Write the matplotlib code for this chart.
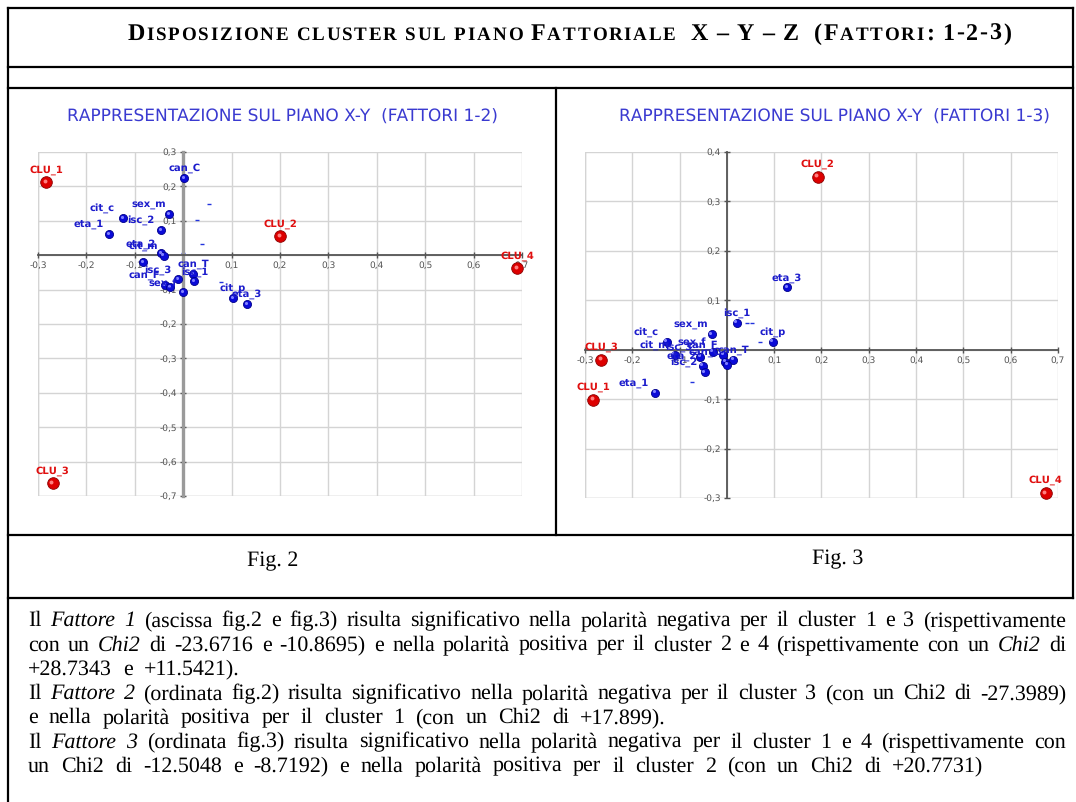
import matplotlib
matplotlib.use('Agg')
import matplotlib.pyplot as plt
from matplotlib.transforms import offset_copy

plt.rcParams['text.hinting'] = 'no_hinting'
plt.rcParams['text.hinting_factor'] = 1

# dati fig.2 (fattori 1-2) e fig.3 (fattori 1-3)
clu_names = ['CLU_1', 'CLU_2', 'CLU_3', 'CLU_4']
clu_f1 = [-0.283, 0.200, -0.270, 0.690]
clu_f2 = [0.212, 0.055, -0.663, -0.038]
clu_f1_b = [-0.283, 0.192, -0.266, 0.674]
clu_f3 = [-0.101, 0.350, -0.020, -0.290]

mod_names2 = ['can_C', 'sex_m', 'cit_c', 'eta_1', 'isc_2', 'eta_2', 'cit_m', 'isc_3',
              'can_F', 'sex_f', 'can_T', 'isc_1', 'cit_p', 'eta_3', '', '']
mod_f1 = [0.002, -0.029, -0.124, -0.153, -0.045, -0.045, -0.040, -0.010,
          -0.037, 0.000, 0.021, 0.023, 0.103, 0.132, -0.083, -0.027]
mod_f2 = [0.224, 0.119, 0.108, 0.061, 0.073, 0.005, -0.002, -0.070,
          -0.087, -0.108, -0.055, -0.076, -0.125, -0.142, -0.020, -0.093]

mod_names3 = ['cit_c', 'eta_1', 'sex_m', 'isc_1', 'cit_p', 'eta_3', 'cit_m', 'isc_3',
              'eta_2', 'isc_2', 'sex_f', 'can_F', 'can_C', 'can_T', '']
mod_f1_b = [-0.127, -0.152, -0.032, 0.021, 0.097, 0.127, -0.110, -0.057,
            -0.051, -0.047, -0.030, -0.008, -0.004, 0.013, 0.000]
mod_f3 = [0.016, -0.087, 0.032, 0.055, 0.016, 0.126, -0.010, -0.014,
          -0.032, -0.045, -0.004, -0.010, -0.024, -0.020, -0.030]

# punti supplementari (trattini)
dash_f1 = [0.054, 0.029, 0.039, 0.000, 0.079]
dash_f2 = [0.148, 0.102, 0.032, 0.006, -0.078]
dash_f1_b = [-0.074, 0.042, 0.053, 0.070]
dash_f3 = [-0.065, 0.055, 0.055, 0.016]

# etichette spostate in alto a sinistra
left2 = {'sex_m', 'cit_c', 'eta_1', 'isc_2', 'eta_2', 'cit_m', 'isc_3', 'can_F', 'sex_f'}
left3 = {'cit_c', 'eta_1', 'sex_m', 'cit_m', 'isc_3', 'eta_2', 'isc_2', 'sex_f', 'can_F', 'can_C'}

titolo = 'Disposizione cluster sul piano Fattoriale  X – Y – Z  (Fattori: 1-2-3)'

testo = [
    [('Il ', 0), ('Fattore 1', 1), ('  (ascissa fig.2 e fig.3) risulta significativo nella polarità negativa per il cluster 1 e 3 (rispettivamente', 0)],
    [('con un ', 0), ('Chi2', 1), (' di -23.6716 e -10.8695) e nella polarità positiva per il cluster 2 e 4 (rispettivamente con un ', 0), ('Chi2', 1), (' di', 0)],
    [('+28.7343 e +11.5421).', 0)],
    [('Il ', 0), ('Fattore 2', 1), ('  (ordinata fig.2) risulta significativo nella polarità negativa per il cluster 3 (con un Chi2 di -27.3989)', 0)],
    [('e nella polarità positiva per il cluster 1 (con un Chi2 di +17.899).', 0)],
    [('Il ', 0), ('Fattore 3', 1), ('  (ordinata fig.3) risulta significativo nella polarità negativa per il cluster 1 e 4 (rispettivamente con', 0)],
    [('un Chi2 di -12.5048 e -8.7192) e nella polarità positiva per il cluster 2  (con un Chi2 di +20.7731)', 0)],
]
giustificata = [True, True, False, True, False, True, False]

W, H = 1076, 802
fig = plt.figure(figsize=(W / 100, H / 100), dpi=100)
fig.patch.set_facecolor('white')

bg = fig.add_axes([0, 0, 1, 1])
bg.set_xlim(0, W)
bg.set_ylim(H, 0)
bg.axis('off')

# cornici della tabella
lw = 1.6
bg.plot([8, 8], [8, H], color='black', lw=lw)
bg.plot([1073, 1073], [8, 598], color='black', lw=lw)
for yy in [8, 67, 88, 535, 598]:
    bg.plot([8, 1073], [yy, yy], color='black', lw=lw)
bg.plot([556, 556], [88, 535], color='black', lw=lw)

bg.text(282, 117, 'RAPPRESENTAZIONE SUL PIANO X-Y  (FATTORI 1-2)', ha='center', va='center',
        family='DejaVu Sans', fontsize=12.3, color='#3a3ad0')
bg.text(834, 117, 'RAPPRESENTAZIONE SUL PIANO X-Y  (FATTORI 1-3)', ha='center', va='center',
        family='DejaVu Sans', fontsize=12.3, color='#3a3ad0')
bg.text(273, 561, 'Fig. 2', ha='center', va='center', family='Liberation Serif', fontsize=16)
bg.text(838, 559, 'Fig. 3', ha='center', va='center', family='Liberation Serif', fontsize=16)


def grafico(box, ylo, yhi, yticks, xs_c, ys_c, xs_m, ys_m, nomi, sinistra, asse_y):
    ax = fig.add_axes([box[0] / W, 1 - box[3] / H, (box[2] - box[0]) / W, (box[3] - box[1]) / H])
    ax.set_xlim(-0.3, 0.7)
    ax.set_ylim(ylo, yhi)
    xt = [-0.3, -0.2, -0.1, 0.1, 0.2, 0.3, 0.4, 0.5, 0.6, 0.7]
    ax.set_xticks(xt)
    ax.set_yticks(yticks)
    ax.set_xticklabels([f'{v:.1f}'.replace('.', ',') for v in xt])
    ax.set_yticklabels([f'{v:.1f}'.replace('.', ',') for v in yticks])
    for v in xt + [0.0]:
        ax.axvline(v, color='#d4d4d4', lw=1, zorder=0)
    for v in yticks + [0.0]:
        ax.axhline(v, color='#d4d4d4', lw=1, zorder=0)
    ax.axvline(-0.3, color='#d4d4d4', lw=1, zorder=0)
    ax.axhline(ylo, color='#d4d4d4', lw=1, zorder=0)
    ax.spines['left'].set_position(('data', 0))
    ax.spines['bottom'].set_position(('data', 0))
    ax.spines['top'].set_visible(False)
    ax.spines['right'].set_visible(False)
    ax.spines['bottom'].set_color('#555555')
    ax.spines['bottom'].set_linewidth(1.3)
    ax.spines['left'].set_color(asse_y[0])
    ax.spines['left'].set_linewidth(asse_y[1])
    ax.tick_params(direction='inout', length=5, width=1, color='#555555',
                   labelsize=6.3, labelcolor='#555555', pad=2)
    ax.patch.set_alpha(0)

    # trattini
    ax.scatter(dash_x, dash_y, marker='_', s=12, color='#2233dd', linewidths=1, clip_on=False)
    # modalita
    ax.scatter(xs_m, ys_m, s=34, color='#0a0ad8', edgecolors='#00008a', linewidths=0.6,
               zorder=4, clip_on=False)
    hl = offset_copy(ax.transData, fig=fig, x=-1, y=1, units='points')
    ax.scatter(xs_m, ys_m, s=5, color='#8080ff', transform=hl, zorder=5, clip_on=False, linewidths=0)
    for n, x, y in zip(nomi, xs_m, ys_m):
        if n:
            ox = -15 if n in sinistra else 0
            ax.annotate(n, (x, y), xytext=(ox, 7), textcoords='offset points', ha='center',
                        va='center', fontsize=7.2, fontweight='bold', color='#1c1ccc',
                        zorder=6, annotation_clip=False)
    # cluster
    ax.scatter(xs_c, ys_c, s=70, color='#dd0000', edgecolors='#8a0000', linewidths=0.6,
               zorder=6, clip_on=False)
    ax.scatter(xs_c, ys_c, s=8, color='#ff8080', transform=hl, zorder=7, clip_on=False, linewidths=0)
    for n, x, y in zip(clu_names, xs_c, ys_c):
        ax.annotate(n, (x, y), xytext=(0, 9), textcoords='offset points', ha='center',
                    va='center', fontsize=7.5, fontweight='bold', color='#e01010',
                    zorder=8, annotation_clip=False)
    return ax


dash_x, dash_y = dash_f1, dash_f2
grafico((38, 152, 522, 496), -0.7, 0.3, [-0.7, -0.6, -0.5, -0.4, -0.3, -0.2, -0.1, 0.1, 0.2, 0.3],
        clu_f1, clu_f2, mod_f1, mod_f2, mod_names2, left2, ('#9a9a9a', 2.4))
dash_x, dash_y = dash_f1_b, dash_f3
grafico((585, 152, 1058, 498), -0.3, 0.4, [-0.3, -0.2, -0.1, 0.1, 0.2, 0.3, 0.4],
        clu_f1_b, clu_f3, mod_f1_b, mod_f3, mod_names3, left3, ('#555555', 1.3))

fig.canvas.draw()
renderer = fig.canvas.get_renderer()


def larghezza(s, size, it=0, bold=False):
    t = bg.text(0, 0, s, family='Liberation Serif', fontsize=size,
                style='italic' if it else 'normal', fontweight='bold' if bold else 'normal')
    w = t.get_window_extent(renderer).width
    t.remove()
    return w


# titolo in maiuscoletto
grande, piccolo, traccia = 17, 13.5, 1.8
pezzi = []
for c in titolo:
    size = grande if (c.isupper() or c.isdigit() or c in '–():-') else piccolo
    pezzi.append((c.upper(), size))
larghe = []
for c, s in pezzi:
    if c == ' ':
        larghe.append(larghezza('a a', s, bold=True) - larghezza('aa', s, bold=True) + traccia)
    else:
        larghe.append(larghezza(c, s, bold=True) + traccia)
x = 570 - sum(larghe) / 2
for (c, s), w in zip(pezzi, larghe):
    if c != ' ':
        bg.text(x, 40, c, family='Liberation Serif', fontsize=s, fontweight='bold',
                ha='left', va='baseline')
    x += w

# paragrafo giustificato
fs = 15.5
spazio = larghezza('a a', fs) - larghezza('aa', fs)
x0, x1 = 28, 1066
for i, riga in enumerate(testo):
    parole = []
    for seg, it in riga:
        for p in seg.split(' '):
            if p:
                parole.append((p, it))
    ws = [larghezza(p, fs, it) for p, it in parole]
    if giustificata[i]:
        gap = (x1 - x0 - sum(ws)) / (len(parole) - 1)
    else:
        gap = spazio * 2.0
    x = x0
    y = 626 + i * 24.3
    for (p, it), w in zip(parole, ws):
        bg.text(x, y, p, family='Liberation Serif', fontsize=fs,
                style='italic' if it else 'normal', va='baseline', ha='left')
        x += w + gap

fig.savefig('out.png', dpi=100, facecolor='white')
